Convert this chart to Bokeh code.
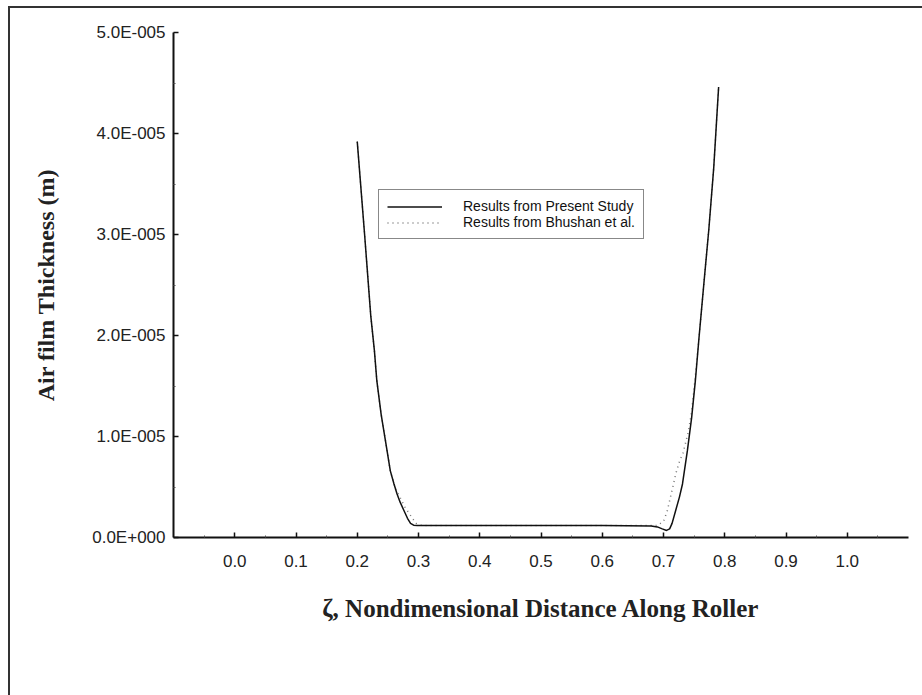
from bokeh.plotting import figure
from bokeh.models import Range1d, FixedTicker, Legend, LegendItem
from bokeh.embed import file_html
from bokeh.resources import INLINE

# ---- data ----
x_present = [0.200, 0.212, 0.222, 0.228, 0.232, 0.239, 0.246, 0.254, 0.260, 0.265,
             0.270, 0.276, 0.282, 0.287, 0.292, 0.298, 0.400, 0.500, 0.600, 0.680,
             0.690, 0.698, 0.705, 0.710, 0.714, 0.720, 0.726, 0.731, 0.739, 0.746,
             0.752, 0.758, 0.766, 0.774, 0.782, 0.790]
y_present = [3.92e-5, 3.0e-5, 2.2e-5, 1.85e-5, 1.55e-5, 1.22e-5, 9.6e-6, 6.6e-6, 5.3e-6, 4.3e-6,
             3.5e-6, 2.7e-6, 1.9e-6, 1.4e-6, 1.22e-6, 1.18e-6, 1.18e-6, 1.18e-6, 1.18e-6, 1.15e-6,
             1.05e-6, 0.85e-6, 0.7e-6, 0.85e-6, 1.4e-6, 2.7e-6, 4.0e-6, 5.3e-6, 8.6e-6, 1.19e-5,
             1.55e-5, 1.98e-5, 2.52e-5, 3.05e-5, 3.66e-5, 4.46e-5]

x_bhushan = [0.200, 0.212, 0.222, 0.228, 0.232, 0.239, 0.246, 0.254, 0.263, 0.268,
             0.278, 0.289, 0.296, 0.305, 0.400, 0.500, 0.600, 0.690, 0.700, 0.706,
             0.711, 0.716, 0.720, 0.726, 0.732, 0.737, 0.741, 0.746, 0.752, 0.758,
             0.766, 0.774, 0.782, 0.790]
y_bhushan = [3.92e-5, 3.0e-5, 2.2e-5, 1.85e-5, 1.55e-5, 1.22e-5, 9.6e-6, 6.6e-6, 4.7e-6, 4.2e-6,
             3.0e-6, 2.0e-6, 1.4e-6, 1.2e-6, 1.18e-6, 1.18e-6, 1.18e-6, 1.18e-6, 1.6e-6, 2.6e-6,
             3.9e-6, 5.2e-6, 6.3e-6, 7.5e-6, 8.4e-6, 9.6e-6, 1.06e-5, 1.25e-5, 1.6e-5, 1.98e-5,
             2.52e-5, 3.05e-5, 3.66e-5, 4.46e-5]

x_ticks = [0.0, 0.1, 0.2, 0.3, 0.4, 0.5, 0.6, 0.7, 0.8, 0.9, 1.0]
x_tick_labels = ["0.0", "0.1", "0.2", "0.3", "0.4", "0.5", "0.6", "0.7", "0.8", "0.9", "1.0"]
x_minor = [-0.05, 0.05, 0.15, 0.25, 0.35, 0.45, 0.55, 0.65, 0.75, 0.85, 0.95, 1.05]

y_ticks = [0.0, 1e-5, 2e-5, 3e-5, 4e-5, 5e-5]
y_tick_labels = ["0.0E+000", "1.0E-005", "2.0E-005", "3.0E-005", "4.0E-005", "5.0E-005"]
y_minor = [0.5e-5, 1.5e-5, 2.5e-5, 3.5e-5, 4.5e-5]

legend_labels = ["Results from Present Study", "Results from Bhushan et al."]
x_title = "\u03b6, Nondimensional Distance Along Roller"
y_title = "Air film Thickness (m)"

# ---- figure ----
p = figure(width=922, height=695, output_backend="svg", toolbar_location=None,
           x_range=Range1d(-0.1, 1.1), y_range=Range1d(0, 5e-5),
           min_border_left=173, min_border_right=14, min_border_top=32,
           min_border_bottom=158)
p.outline_line_color = None
p.grid.visible = False
p.background_fill_color = "white"
p.border_fill_alpha = 0   # let the host background (page frame) show through

# page frame: top and left edges only, as in the scanned reference
p.styles = {
    "background-color": "white",
    "background-image": "linear-gradient(#333333, #333333), linear-gradient(#333333, #333333)",
    "background-size": "914px 2px, 2px 689px",
    "background-position": "8px 6px, 8px 6px",
    "background-repeat": "no-repeat",
}

r_b = p.line(x_bhushan, y_bhushan, line_color="#777777", line_width=1.5, line_dash="1 4")
r_p = p.line(x_present, y_present, line_color="#111111", line_width=1.5)

for ax in (p.xaxis[0], p.yaxis[0]):
    ax.axis_line_color = "#111111"
    ax.axis_line_width = 2
    ax.major_tick_line_color = "#111111"
    ax.minor_tick_line_color = "#555555"
    ax.major_tick_line_width = 1.5
    ax.major_label_text_font = "Liberation Sans"
    ax.major_label_text_font_size = "17px"
    ax.major_label_text_color = "#222222"
    ax.axis_label_text_font = "Liberation Serif"
    ax.axis_label_text_font_style = "bold"
    ax.axis_label_text_color = "#222222"
    ax.major_tick_in = 5
    ax.major_tick_out = 0
    ax.minor_tick_in = 2
    ax.minor_tick_out = 0

p.xaxis.ticker = FixedTicker(ticks=x_ticks, minor_ticks=x_minor)
p.xaxis.major_label_overrides = {t: l for t, l in zip(x_ticks, x_tick_labels)}
p.xaxis.axis_label = x_title
p.xaxis.axis_label_text_font_size = "25px"
p.xaxis.major_label_standoff = 17
p.xaxis.axis_label_standoff = 25

p.yaxis.ticker = FixedTicker(ticks=y_ticks, minor_ticks=y_minor)
p.yaxis.major_label_overrides = {t: l for t, l in zip(y_ticks, y_tick_labels)}
p.yaxis.axis_label = y_title
p.yaxis.axis_label_text_font_size = "24px"
p.yaxis.major_label_standoff = 8
p.yaxis.axis_label_standoff = 30

legend = Legend(items=[LegendItem(label=legend_labels[0], renderers=[r_p]),
                       LegendItem(label=legend_labels[1], renderers=[r_b])],
                location=(205, 298))
legend.border_line_color = "#111111"
legend.border_line_width = 1.5
legend.background_fill_color = "white"
legend.background_fill_alpha = 1
legend.label_text_font = "Liberation Sans"
legend.label_text_font_size = "14px"
legend.label_text_color = "#111111"
legend.glyph_width = 55
legend.glyph_height = 15
legend.label_height = 15
legend.label_standoff = 21
legend.spacing = 0
legend.padding = 8
legend.margin = 0
p.add_layout(legend, "center")

open("out.html", "w").write(file_html(p, INLINE))
